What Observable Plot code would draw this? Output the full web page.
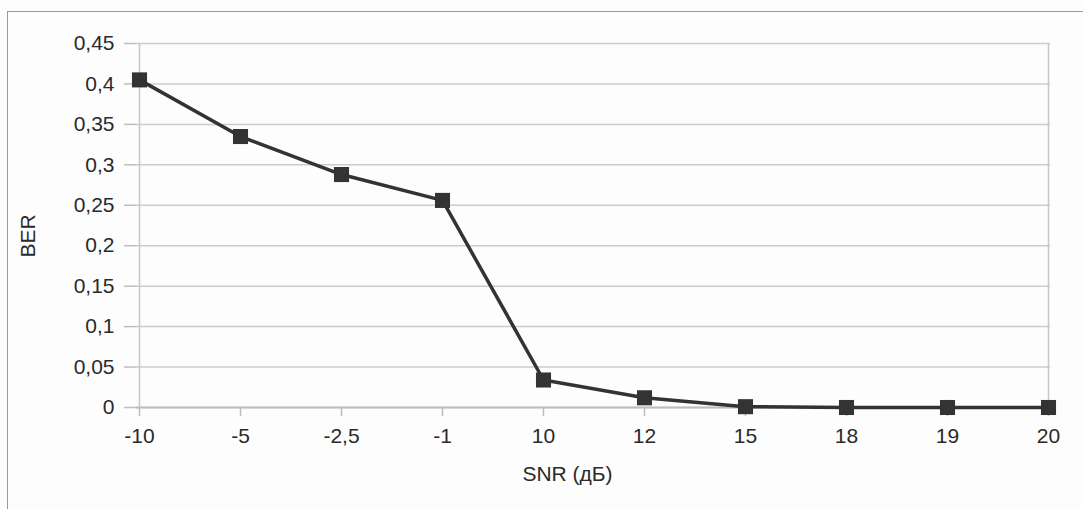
<!DOCTYPE html>
<html>
<head>
<meta charset="utf-8">
<script src="https://cdn.jsdelivr.net/npm/d3@7"></script>
<script src="https://cdn.jsdelivr.net/npm/@observablehq/plot@0.6"></script>
<style>
  html, body { margin: 0; padding: 0; background: #ffffff; }
  #wrap { position: relative; width: 1083px; height: 509px; background: #fdfdfd; overflow: hidden; }
  #frame { position: absolute; left: 7px; top: 11px; right: -2px; bottom: -2px; border-top: 1px solid #9a9a9a; border-left: 1px solid #9a9a9a; }
  #chart { position: absolute; left: 0; top: 0; }
</style>
</head>
<body>
<div id="wrap"><div id="frame"></div><div id="chart"></div></div>
<script>
const snrLabels = ["-10", "-5", "-2,5", "-1", "10", "12", "15", "18", "19", "20"];
const berValues = [0.405, 0.335, 0.288, 0.256, 0.034, 0.012, 0.001, 0, 0, 0];
const yTicks = [0, 0.05, 0.1, 0.15, 0.2, 0.25, 0.3, 0.35, 0.4, 0.45];
const xTitle = "SNR (дБ)";
const yTitle = "BER";

const data = snrLabels.map((s, i) => ({snr: s, ber: berValues[i]}));
const fmt = v => String(+v.toFixed(2)).replace(".", ",");
const font = "Liberation Sans, Arial, sans-serif";
const fs = 21;

const chart = Plot.plot({
  width: 1083,
  height: 509,
  marginLeft: 136,
  marginRight: 33,
  marginTop: 43,
  marginBottom: 102,
  style: {fontFamily: font, fontSize: fs + "px", color: "#2a2a2a", background: "transparent"},
  x: {type: "point", domain: snrLabels, padding: 0},
  y: {domain: [0, 0.45]},
  marks: [
    Plot.gridY(yTicks, {stroke: "#cccccc", strokeOpacity: 1, strokeWidth: 1.5}),
    Plot.ruleX([snrLabels[0], snrLabels[snrLabels.length - 1]], {stroke: "#c8c8c8", strokeWidth: 1.5}),
    Plot.ruleY([0], {stroke: "#bdbdbd", strokeWidth: 2}),
    Plot.axisY(yTicks, {tickFormat: fmt, tickSize: 12, tickPadding: 10, stroke: "#bdbdbd", strokeWidth: 1.5, label: null, fontSize: fs, fill: "#2a2a2a"}),
    Plot.axisX(snrLabels, {tickSize: 9, tickPadding: 12, stroke: "#bdbdbd", strokeWidth: 1.5, label: null, fontSize: fs, fill: "#2a2a2a"}),
    Plot.lineY(data, {x: "snr", y: "ber", stroke: "#333333", strokeWidth: 3.5}),
    Plot.dot(data, {x: "snr", y: "ber", symbol: "square", r: 8.5, fill: "#333333", stroke: "none"}),
    Plot.text([xTitle], {frameAnchor: "bottom", dy: 73, dx: -26, fontSize: fs, fill: "#2a2a2a"}),
    Plot.text([yTitle], {frameAnchor: "left", rotate: -90, dx: -108, dy: 32, fontSize: fs, fill: "#2a2a2a"})
  ]
});
document.getElementById("chart").appendChild(chart);
</script>
</body>
</html>
